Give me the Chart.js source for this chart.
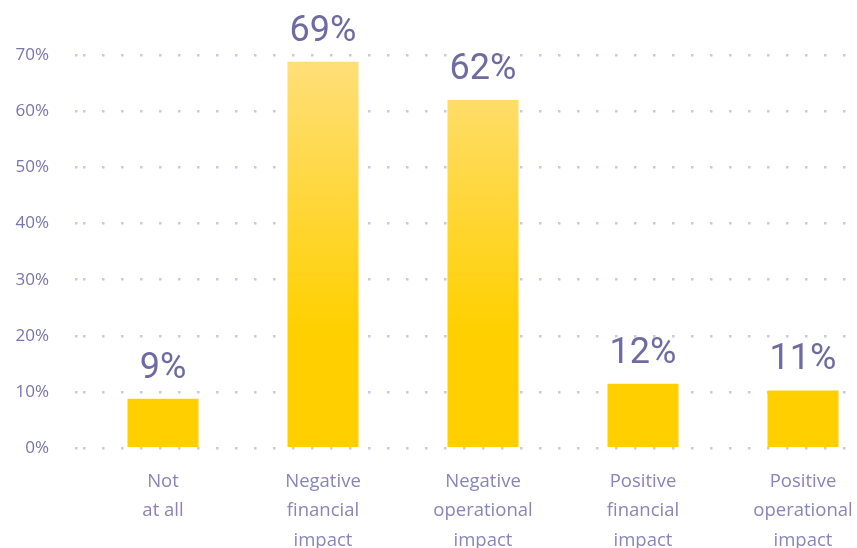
<!DOCTYPE html>
<html>
<head>
<meta charset="utf-8">
<script src="https://cdn.jsdelivr.net/npm/chart.js@4"></script>
<style>
  html, body { margin: 0; padding: 0; background: #fff; overflow: hidden; }
  #wrap { width: 900px; height: 574px; position: relative; }
</style>
</head>
<body>
<div id="wrap"><canvas id="chart"></canvas></div>
<script>
// categories (multi-line x labels)
const categories = [
  ["Not", "at all"],
  ["Negative", "financial", "impact"],
  ["Negative", "operational", "impact"],
  ["Positive", "financial", "impact"],
  ["Positive", "operational", "impact"]
];
// bar heights
const values = [8.8, 68.8, 62, 11.5, 10.3];
// labels printed above bars
const valueLabels = ["9%", "69%", "62%", "12%", "11%"];
const yTicks = [0, 10, 20, 30, 40, 50, 60, 70];

const textColor = "#7a74ac";
const dotColor = "#c8c8de";
const dash = [2.5, 16.5];

// data labels above bars
const barLabels = {
  id: "barLabels",
  afterDatasetsDraw(chart) {
    const ctx = chart.ctx;
    const meta = chart.getDatasetMeta(0);
    ctx.save();
    ctx.font = "36px Roboto";
    ctx.fillStyle = "#6f6aa1";
    ctx.textAlign = "center";
    ctx.textBaseline = "alphabetic";
    meta.data.forEach((bar, i) => {
      ctx.fillText(valueLabels[i], bar.x, bar.y - 21);
    });
    ctx.restore();
  }
};

function barGradient(context) {
  const chart = context.chart;
  const area = chart.chartArea;
  if (!area) return "#ffcf00";
  const g = chart.ctx.createLinearGradient(0, area.top, 0, area.bottom);
  g.addColorStop(0, "#ffdf7c");
  g.addColorStop(0.7, "#ffd000");
  g.addColorStop(1, "#ffcf00");
  return g;
}

new Chart(document.getElementById("chart"), {
  type: "bar",
  data: {
    labels: categories,
    datasets: [{
      data: values,
      backgroundColor: barGradient,
      borderWidth: 0,
      categoryPercentage: 1,
      barPercentage: 0.444
    }]
  },
  options: {
    responsive: true,
    maintainAspectRatio: false,
    animation: false,
    layout: { padding: { top: 55, left: 0, right: 17, bottom: 0 } },
    plugins: { legend: { display: false }, tooltip: { enabled: false } },
    scales: {
      x: {
        grid: { display: false, drawTicks: false },
        border: { display: false },
        ticks: {
          color: "#8a84b8",
          font: { family: "'Open Sans'", size: 18.5, lineHeight: 1.58 },
          padding: 19,
          maxRotation: 0,
          autoSkip: false
        }
      },
      y: {
        min: 0,
        max: 70,
        afterFit(scale) { scale.width = 83; },
        afterBuildTicks(scale) { scale.ticks = yTicks.map(v => ({ value: v })); },
        grid: {
          color: dotColor,
          lineWidth: 2.5,
          tickLength: 8,
          drawTicks: true,
          tickColor: dotColor,
          tickWidth: 2.5,
          tickBorderDash: dash
        },
        border: { display: false, dash: dash },
        ticks: {
          color: textColor,
          font: { family: "'Open Sans'", size: 17 },
          padding: 26,
          callback: v => v + "%"
        }
      }
    }
  },
  plugins: [barLabels]
});
</script>
</body>
</html>
